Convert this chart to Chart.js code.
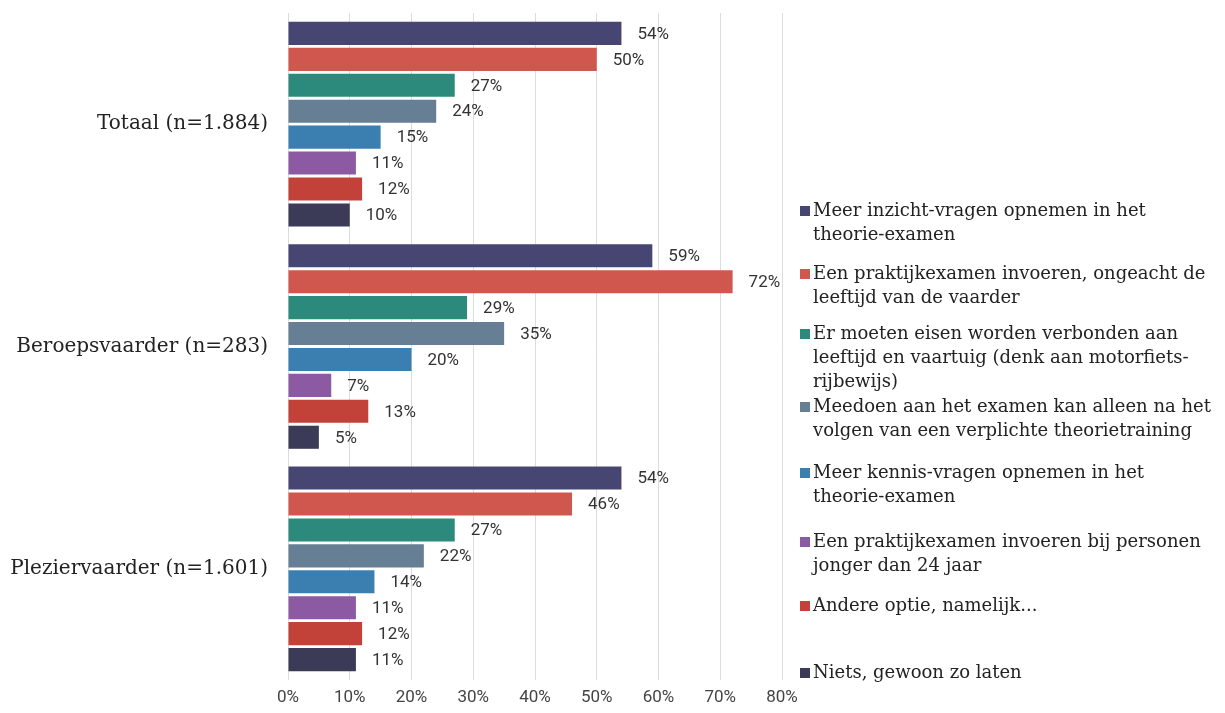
<!DOCTYPE html>
<html>
<head>
<meta charset="utf-8">
<script src="https://cdn.jsdelivr.net/npm/chart.js@4"></script>
<style>
  html, body { margin: 0; padding: 0; background: #fff; }
  #wrap { width: 1225px; height: 713px; }
</style>
</head>
<body>
<div id="wrap"><canvas id="chart" width="1225" height="713"></canvas></div>
<script>
// categories and series values (percent)
const categories = ["Totaal (n=1.884)", "Beroepsvaarder (n=283)", "Pleziervaarder (n=1.601)"];
// legend text, one entry per series, split in the lines used by the legend
const seriesNames = [
  ["Meer inzicht-vragen opnemen in het", "theorie-examen"],
  ["Een praktijkexamen invoeren, ongeacht de", "leeftijd van de vaarder"],
  ["Er moeten eisen worden verbonden aan", "leeftijd en vaartuig (denk aan motorfiets-", "rijbewijs)"],
  ["Meedoen aan het examen kan alleen na het", "volgen van een verplichte theorietraining"],
  ["Meer kennis-vragen opnemen in het", "theorie-examen"],
  ["Een praktijkexamen invoeren bij personen", "jonger dan 24 jaar"],
  ["Andere optie, namelijk..."],
  ["Niets, gewoon zo laten"]
];
const meerInzicht = [54, 59, 54];
const praktijkAltijd = [50, 72, 46];
const eisenLeeftijd = [27, 29, 27];
const theorieTraining = [24, 35, 22];
const meerKennis = [15, 20, 14];
const praktijkJong = [11, 7, 11];
const andereOptie = [12, 13, 12];
const nietsLaten = [10, 5, 11];
const xTicks = [0, 10, 20, 30, 40, 50, 60, 70, 80];

const seriesValues = [meerInzicht, praktijkAltijd, eisenLeeftijd, theorieTraining,
  meerKennis, praktijkJong, andereOptie, nietsLaten];
const colors = ["#474672", "#cf574e", "#2b8a7b", "#667f94", "#3b7fb0", "#8b5aa3", "#c2423a", "#3b3b58"];

const serif = "'DejaVu Serif', serif";

// value labels to the right of each bar
const barLabels = {
  id: "barLabels",
  afterDatasetsDraw(chart) {
    const ctx = chart.ctx;
    ctx.save();
    ctx.font = "17px Roboto";
    ctx.fillStyle = "#333";
    ctx.textBaseline = "middle";
    chart.data.datasets.forEach((ds, i) => {
      chart.getDatasetMeta(i).data.forEach((bar, j) => {
        ctx.fillText(Math.round(ds.data[j]) + "%", bar.x + 16, bar.y + 1);
      });
    });
    ctx.restore();
  }
};

// legend on the right
const sideLegend = {
  id: "sideLegend",
  afterDraw(chart) {
    const ctx = chart.ctx;
    const itemY = [211, 274, 334, 407, 473, 542, 606, 673];
    ctx.save();
    ctx.font = "18px " + serif;
    ctx.textBaseline = "middle";
    chart.data.datasets.forEach((ds, i) => {
      ctx.fillStyle = ds.backgroundColor;
      ctx.fillRect(800, itemY[i] - 5, 10, 10);
      ctx.fillStyle = "#222";
      seriesNames[i].forEach((l, k) => ctx.fillText(l, 813, itemY[i] + k * 24));
    });
    ctx.restore();
  }
};

new Chart(document.getElementById("chart"), {
  type: "bar",
  data: {
    labels: categories,
    datasets: seriesNames.map((name, i) => ({
      label: name.join(" "),
      data: seriesValues[i],
      backgroundColor: colors[i],
      borderWidth: 0,
      categoryPercentage: 0.933,
      barPercentage: 0.89
    }))
  },
  options: {
    indexAxis: "y",
    responsive: false,
    animation: false,
    layout: { padding: { top: 13, right: 443, left: 0, bottom: 0 } },
    plugins: { legend: { display: false }, tooltip: { enabled: false } },
    scales: {
      x: {
        min: 0,
        max: 80,
        afterBuildTicks(scale) { scale.ticks = xTicks.map(v => ({ value: v })); },
        afterFit(scale) { scale.height = 33; },
        grid: { color: "#dcdcdc", drawTicks: false },
        border: { display: false },
        ticks: {
          padding: 8,
          color: "#444",
          font: { family: "Roboto", size: 17 },
          callback: v => v + "%"
        }
      },
      y: {
        afterFit(scale) {
          scale.width = 288;
          scale.paddingTop = 0;
          scale.paddingBottom = 0;
        },
        grid: { display: false },
        border: { display: false },
        ticks: {
          padding: 12,
          color: "#222",
          font: { family: "DejaVu Serif", size: 20 }
        }
      }
    }
  },
  plugins: [barLabels, sideLegend]
});
</script>
</body>
</html>
